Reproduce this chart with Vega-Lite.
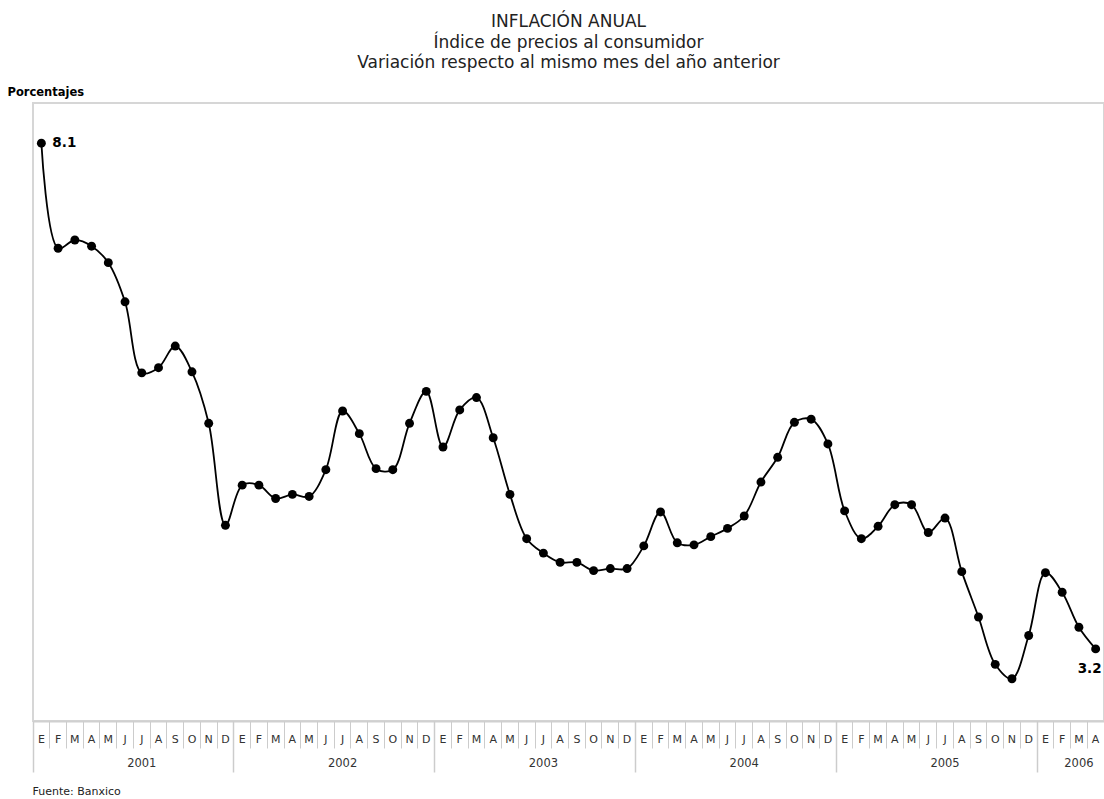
{
  "$schema": "https://vega.github.io/schema/vega-lite/v6.json",
  "autosize": {"type": "none"},
  "padding": {"left": 33, "top": 103, "right": 0, "bottom": 78},
  "width": 1071,
  "height": 618,
  "background": "white",
  "config": {
    "font": "DejaVu Sans",
    "view": {"stroke": "#d6d6d6", "strokeWidth": 2},
    "axis": {"grid": false}
  },
  "title": {
    "text": ["INFLACIÓN ANUAL", "Índice de precios al consumidor", "Variación respecto al mismo mes del año anterior"],
    "font": "DejaVu Sans",
    "fontSize": 17,
    "fontWeight": "normal",
    "lineHeight": 20.5,
    "color": "#222",
    "anchor": "middle",
    "offset": 14
  },
  "data": {
    "values": [
      {"mes": "2001-01", "inflacion": 8.11, "etiqueta": "8.1"},
      {"mes": "2001-02", "inflacion": 7.09},
      {"mes": "2001-03", "inflacion": 7.17},
      {"mes": "2001-04", "inflacion": 7.11},
      {"mes": "2001-05", "inflacion": 6.95},
      {"mes": "2001-06", "inflacion": 6.57},
      {"mes": "2001-07", "inflacion": 5.88},
      {"mes": "2001-08", "inflacion": 5.93},
      {"mes": "2001-09", "inflacion": 6.14},
      {"mes": "2001-10", "inflacion": 5.89},
      {"mes": "2001-11", "inflacion": 5.39},
      {"mes": "2001-12", "inflacion": 4.40},
      {"mes": "2002-01", "inflacion": 4.79},
      {"mes": "2002-02", "inflacion": 4.79},
      {"mes": "2002-03", "inflacion": 4.66},
      {"mes": "2002-04", "inflacion": 4.70},
      {"mes": "2002-05", "inflacion": 4.68},
      {"mes": "2002-06", "inflacion": 4.94},
      {"mes": "2002-07", "inflacion": 5.51},
      {"mes": "2002-08", "inflacion": 5.29},
      {"mes": "2002-09", "inflacion": 4.95},
      {"mes": "2002-10", "inflacion": 4.94},
      {"mes": "2002-11", "inflacion": 5.39},
      {"mes": "2002-12", "inflacion": 5.70},
      {"mes": "2003-01", "inflacion": 5.16},
      {"mes": "2003-02", "inflacion": 5.52},
      {"mes": "2003-03", "inflacion": 5.64},
      {"mes": "2003-04", "inflacion": 5.25},
      {"mes": "2003-05", "inflacion": 4.70},
      {"mes": "2003-06", "inflacion": 4.27},
      {"mes": "2003-07", "inflacion": 4.13},
      {"mes": "2003-08", "inflacion": 4.04},
      {"mes": "2003-09", "inflacion": 4.04},
      {"mes": "2003-10", "inflacion": 3.96},
      {"mes": "2003-11", "inflacion": 3.98},
      {"mes": "2003-12", "inflacion": 3.98},
      {"mes": "2004-01", "inflacion": 4.20},
      {"mes": "2004-02", "inflacion": 4.53},
      {"mes": "2004-03", "inflacion": 4.23},
      {"mes": "2004-04", "inflacion": 4.21},
      {"mes": "2004-05", "inflacion": 4.29},
      {"mes": "2004-06", "inflacion": 4.37},
      {"mes": "2004-07", "inflacion": 4.49},
      {"mes": "2004-08", "inflacion": 4.82},
      {"mes": "2004-09", "inflacion": 5.06},
      {"mes": "2004-10", "inflacion": 5.40},
      {"mes": "2004-11", "inflacion": 5.43},
      {"mes": "2004-12", "inflacion": 5.19},
      {"mes": "2005-01", "inflacion": 4.54},
      {"mes": "2005-02", "inflacion": 4.27},
      {"mes": "2005-03", "inflacion": 4.39},
      {"mes": "2005-04", "inflacion": 4.60},
      {"mes": "2005-05", "inflacion": 4.60},
      {"mes": "2005-06", "inflacion": 4.33},
      {"mes": "2005-07", "inflacion": 4.47},
      {"mes": "2005-08", "inflacion": 3.95},
      {"mes": "2005-09", "inflacion": 3.51},
      {"mes": "2005-10", "inflacion": 3.05},
      {"mes": "2005-11", "inflacion": 2.91},
      {"mes": "2005-12", "inflacion": 3.33},
      {"mes": "2006-01", "inflacion": 3.94},
      {"mes": "2006-02", "inflacion": 3.75},
      {"mes": "2006-03", "inflacion": 3.41},
      {"mes": "2006-04", "inflacion": 3.20, "etiqueta": "3.2"}
    ]
  },
  "resolve": {"axis": {"x": "independent"}},
  "layer": [
    {
      "mark": {"type": "line", "color": "#000", "strokeWidth": 1.8, "interpolate": "catmull-rom"},
      "encoding": {
        "x": {
          "field": "mes", "type": "ordinal", "sort": null,
          "scale": {"type": "band", "paddingInner": 0, "paddingOuter": 0},
          "axis": {
            "orient": "bottom", "title": null, "ticks": false, "tickSize": 0, "domain": true,
            "domainColor": "#d0d0d0", "domainWidth": 2,
            "labelAngle": 0, "labelPadding": 12, "labelFontSize": 11, "labelColor": "#333",
            "labelFont": "DejaVu Sans", "labelBaseline": "top",
            "labelExpr": "['E','F','M','A','M','J','J','A','S','O','N','D'][toNumber(substring(datum.value,5,7))-1]"
          }
        },
        "y": {
          "field": "inflacion", "type": "quantitative",
          "scale": {"domain": [2.5, 8.5], "nice": false, "zero": false},
          "axis": {
            "title": "Porcentajes", "labels": false, "ticks": false, "domain": false,
            "titleAngle": 0, "titleX": -26, "titleY": -8, "titleAlign": "left",
            "titleBaseline": "alphabetic", "titleFontWeight": "bold", "titleFontSize": 11.5,
            "titleColor": "#000", "titleFont": "DejaVu Sans"
          }
        }
      }
    },
    {
      "mark": {"type": "point", "filled": true, "color": "#000", "size": 80, "opacity": 1},
      "encoding": {
        "x": {
          "field": "mes", "type": "ordinal", "sort": null,
          "scale": {"type": "band", "paddingInner": 0, "paddingOuter": 0},
          "axis": {
            "orient": "bottom", "title": null, "labels": false, "domain": false,
            "ticks": true, "tickSize": 27, "tickColor": "#cccccc", "tickWidth": 1,
            "bandPosition": 0
          }
        },
        "y": {"field": "inflacion", "type": "quantitative"}
      }
    },
    {
      "transform": [{"filter": "datum.etiqueta == '8.1'"}],
      "mark": {"type": "text", "align": "left", "baseline": "middle", "dx": 11, "fontSize": 13.5, "fontWeight": "bold", "color": "#000"},
      "encoding": {
        "x": {
          "field": "mes", "type": "ordinal", "sort": null,
          "scale": {"type": "band", "paddingInner": 0, "paddingOuter": 0},
          "axis": {
            "orient": "bottom", "title": null, "labels": false, "domain": false,
            "ticks": true, "tickSize": 51, "tickColor": "#cccccc", "tickWidth": 1.5,
            "bandPosition": 0,
            "values": ["2001-01", "2002-01", "2003-01", "2004-01", "2005-01", "2006-01"]
          }
        },
        "y": {"field": "inflacion", "type": "quantitative"},
        "text": {"field": "etiqueta"}
      }
    },
    {
      "transform": [{"filter": "datum.etiqueta == '3.2'"}],
      "mark": {"type": "text", "align": "right", "baseline": "middle", "dx": 6, "dy": 20, "fontSize": 13.5, "fontWeight": "bold", "color": "#000"},
      "encoding": {
        "x": {
          "field": "mes", "type": "ordinal", "sort": null,
          "scale": {"type": "band", "paddingInner": 0, "paddingOuter": 0},
          "axis": {
            "orient": "bottom", "domain": false, "ticks": false, "tickSize": 0,
            "bandPosition": 0, "labelAngle": 0,
            "labelPadding": 36, "labelFontSize": 11.5, "labelColor": "#333", "labelBaseline": "top",
            "labelFont": "DejaVu Sans",
            "values": ["2001-07", "2002-07", "2003-07", "2004-07", "2005-07", "2006-03"],
            "labelExpr": "substring(datum.value,0,4)",
            "title": "Fuente: Banxico", "titleAnchor": "start", "titleAlign": "left",
            "titleX": -1, "titleY": 73, "titleBaseline": "alphabetic",
            "titleFontWeight": "normal", "titleFontSize": 11, "titleColor": "#222",
            "titleFont": "DejaVu Sans"
          }
        },
        "y": {"field": "inflacion", "type": "quantitative"},
        "text": {"field": "etiqueta"}
      }
    }
  ]
}
